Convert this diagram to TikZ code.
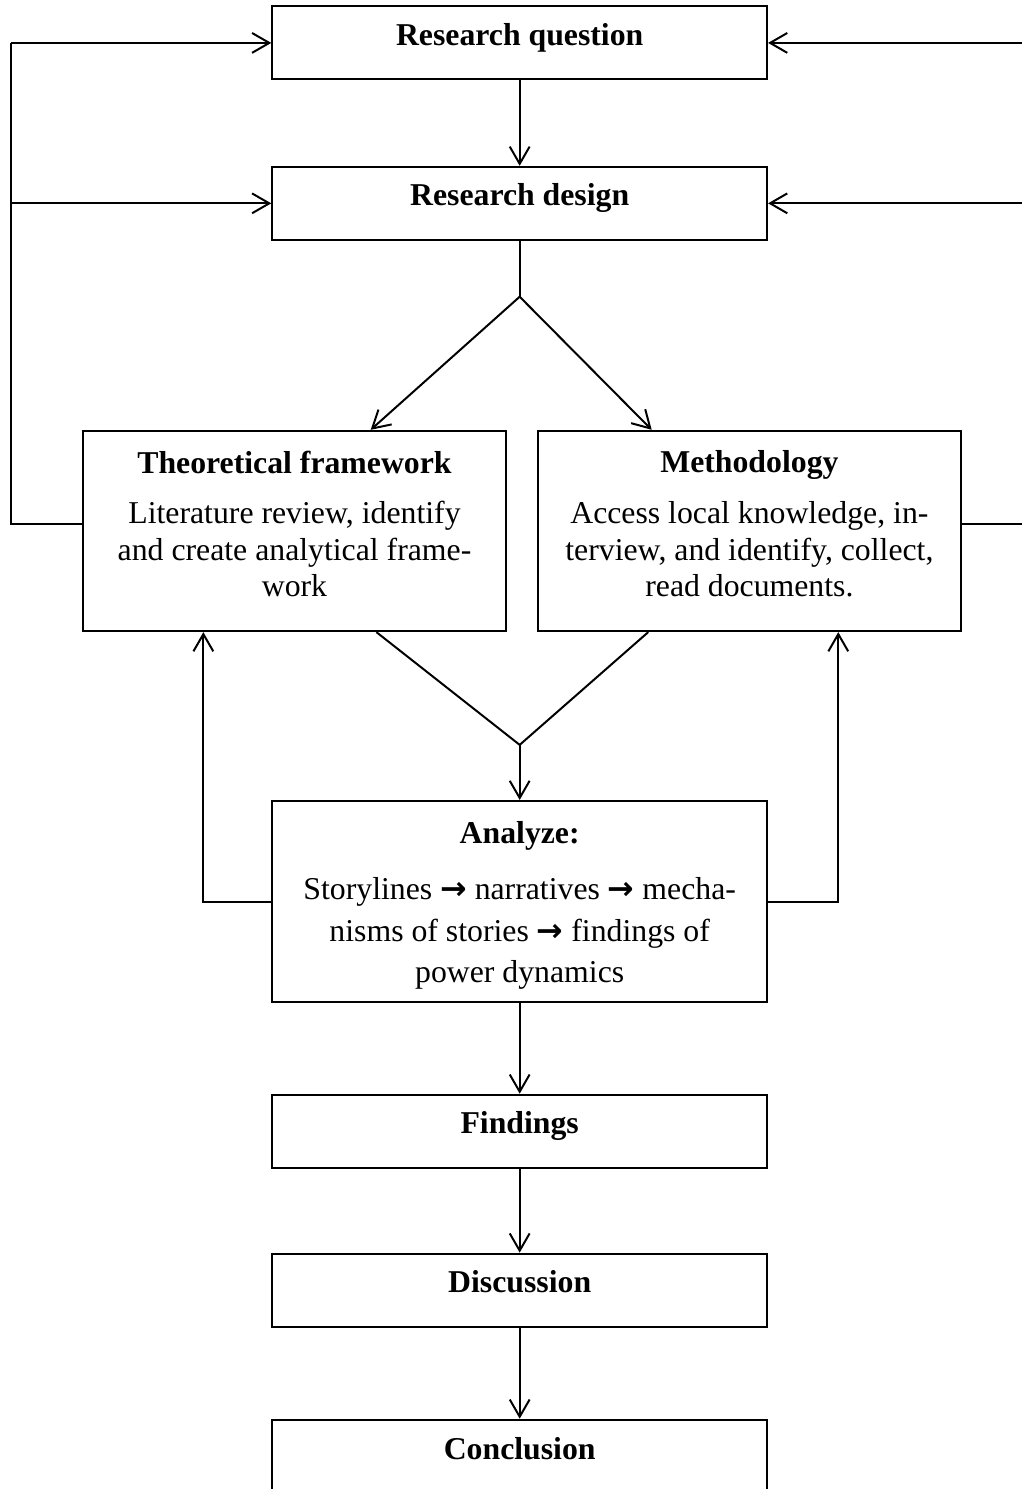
\documentclass[tikz,border=0pt]{standalone}
\usepackage{fontspec}
\setmainfont{Liberation Serif}
\newfontfamily\arrowfont{DejaVu Sans}
\usetikzlibrary{arrows.meta,positioning}
\newcommand{\flowarrow}{{\arrowfont\bfseries →}}

\begin{document}
\begin{tikzpicture}[
  >={Straight Barb[length=6.5pt,width=7.5pt]},
  line width=0.75pt,
  font=\fontsize{12}{13.8}\selectfont,
  stepbox/.style={draw,minimum width=6.57cm,minimum height=0.97cm,inner sep=0pt,
    font=\fontsize{12}{13.8}\selectfont\bfseries,text height=8.5pt,text depth=6.5pt},
  panel/.style={draw,minimum width=5.62cm,minimum height=2.66cm,inner sep=0pt},
  paneltext/.style={align=center,inner sep=4pt},
  link/.style={draw},
  arr/.style={->},
]
\useasboundingbox (0,0) rectangle (13.56,19.77);

% ---------- top ----------
\node[stepbox] (question) at (6.90,19.20) {Research question};
\node[stepbox] (design)   at (6.90,17.07) {Research design};

\coordinate (split) at (6.90,15.83);

% ---------- two panels ----------
\node[panel] (theory) at (3.91,12.72) {};
\node[paneltext,below=3.5pt of theory.north] (theorytext)
  {\textbf{Theoretical framework}\\[5.4pt]
   Literature review, identify\\
   and create analytical frame-\\
   work};

\node[panel] (method) at (9.95,12.72) {};
\node[paneltext,below=3.5pt of method.north] (methodtext)
  {\textbf{Methodology}\\[5.4pt]
   Access local knowledge, in-\\
   terview, and identify, collect,\\
   read documents.};

\coordinate (merge) at (6.90,9.88);

% ---------- analysis ----------
\node[panel,minimum width=6.57cm,minimum height=2.67cm] (analyze) at (6.90,7.80) {};
\node[paneltext,font=\fontsize{12}{15.8}\selectfont,below=3.8pt of analyze.north] (analyzetext)
  {\textbf{Analyze:}\\[5.2pt]
   Storylines \flowarrow\ narratives \flowarrow\ mecha-\\
   nisms of stories \flowarrow\ findings of\\
   power dynamics};

% ---------- bottom ----------
\node[stepbox] (findings)   at (6.90,4.75) {Findings};
\node[stepbox] (discussion) at (6.90,2.64) {Discussion};
\node[stepbox,minimum height=0.98cm] (conclusion) at (6.90,0.43) {Conclusion};

% ---------- loop lines ----------
\coordinate (loopL) at (0.15,0);
\coordinate (loopR) at (13.75,0);
\coordinate (backL) at (2.70,7.80);
\coordinate (backR) at (11.13,7.80);

% ---------- connectors ----------
\draw[arr] (question) -- (design);
\draw[link] (design) -- (split);
\draw[arr] (split) -- (theory.53);
\draw[arr] (split) -- (method.134);

\draw[link] (theory.-51) -- (merge);
\draw[link] (method.-135) -- (merge);
\draw[arr] (merge) -- (analyze);

\draw[arr] (analyze) -- (findings);
\draw[arr] (findings) -- (discussion);
\draw[arr] (discussion) -- (conclusion);

\draw[arr] (analyze.west) -- (backL) -- (backL |- theory.south);
\draw[arr] (analyze.east) -- (backR) -- (backR |- method.south);

\draw[link] (theory.178) -| (loopL |- question.west);
\draw[arr] (loopL |- question.west) -- (question);
\draw[arr] (loopL |- design.west) -- (design);

\draw[link] (method.2) -| (loopR |- question.east);
\draw[arr] (loopR |- question.east) -- (question);
\draw[arr] (loopR |- design.east) -- (design);

\end{tikzpicture}
\end{document}
